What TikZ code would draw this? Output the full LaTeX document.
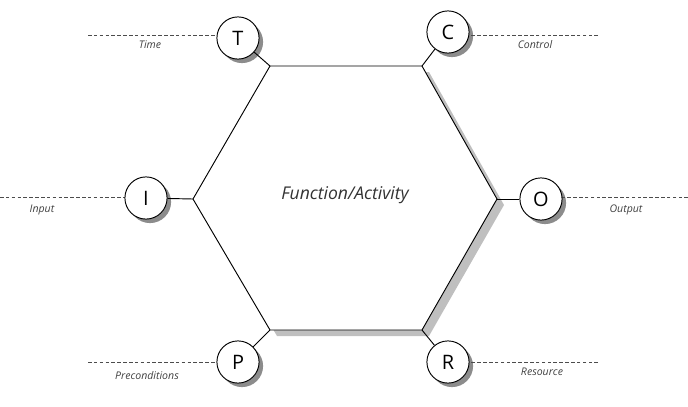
\documentclass[tikz,border=0pt]{standalone}
\usepackage{fontspec}
\setmainfont{Open Sans}
\usetikzlibrary{backgrounds}
\tikzset{
  port/.style={circle, draw, thick, fill=white, minimum size=36pt, inner sep=0pt,
    font=\fontsize{17}{17}\selectfont},
  lbl/.style={font=\itshape\fontsize{9}{9}\selectfont, text=black!75},
  tick/.style={dash pattern=on 3pt off 2pt, black!70}
}
\begin{document}
\begin{tikzpicture}[x=0.03cm,y=-0.03cm]
  \useasboundingbox (0,0) rectangle (688,406);
  % hexagon corners
  \coordinate (tl) at (270,66);
  \coordinate (tr) at (422,66);
  \coordinate (rr) at (497,199);
  \coordinate (br) at (422,330);
  \coordinate (bl) at (270,330);
  \coordinate (ll) at (193,199);
  \fill[black!25] ([shift={(7,6)}]tl) -- ([shift={(7,6)}]tr) -- ([shift={(7,6)}]rr)
    -- ([shift={(7,6)}]br) -- ([shift={(7,6)}]bl) -- ([shift={(7,6)}]ll) -- cycle;
  \filldraw[thick, fill=white]
    (tl) -- (tr) -- (rr) -- (br) -- (bl) -- (ll) -- cycle;
  \node[font=\itshape\fontsize{15}{15}\selectfont, text=black!80] (fa) at (345,195) {Function/Activity};

  % dashed leaders
  \coordinate (t0) at (88,35);  \draw[tick] (t0) -- (220,35);
  \coordinate (c0) at (598,35); \draw[tick] (c0) -- (465,35);
  \coordinate (i0) at (0,197);  \draw[tick] (i0) -- (130,197);
  \coordinate (o0) at (688,197);\draw[tick] (o0) -- (555,197);
  \coordinate (p0) at (88,362); \draw[tick] (p0) -- (220,362);
  \coordinate (r0) at (598,362);\draw[tick] (r0) -- (465,362);

  % ports
  \node[port] (T) at (238,38) {T};
  \node[port] (C) at (448,32) {C};
  \node[port] (I) at (146,198) {I};
  \node[port] (O) at (541,199) {O};
  \node[port] (P) at (238,362) {P};
  \node[port] (R) at (448,362) {R};
  \begin{scope}[on background layer]
    \foreach \p in {T,C,I,O,P,R}
      \fill[black!45] ([shift={(4,4)}]\p.center) circle (18pt);
  \end{scope}
  \draw[thick] (tl) -- (T);
  \draw[thick] (tr) -- (C);
  \draw[thick] (ll) -- (I);
  \draw[thick] (rr) -- (O);
  \draw[thick] (bl) -- (P);
  \draw[thick] (br) -- (R);

  % labels
  \node[lbl] (lt) at (150,45) {Time};
  \node[lbl] (lc) at (535,45) {Control};
  \node[lbl] (li) at (42,210) {Input};
  \node[lbl] (lo) at (626,210) {Output};
  \node[lbl] (lp) at (147,376) {Preconditions};
  \node[lbl] (lr) at (542,372) {Resource};
\end{tikzpicture}
\end{document}
